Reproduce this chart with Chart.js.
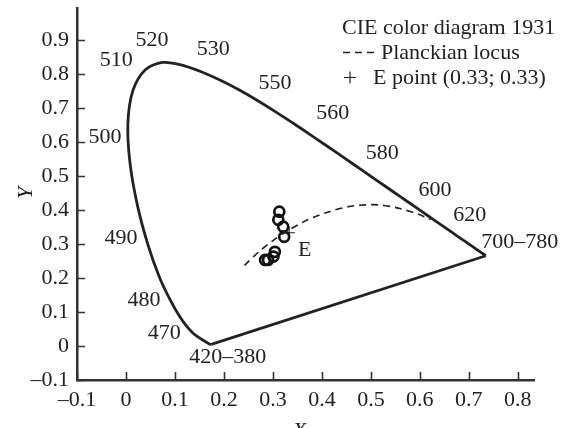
<!DOCTYPE html>
<html>
<head>
<meta charset="utf-8">
<script src="https://cdn.jsdelivr.net/npm/chart.js@4/dist/chart.umd.min.js"></script>
<style>
  html, body { margin: 0; padding: 0; background: #fff; }
</style>
</head>
<body>
<canvas id="chart" width="567" height="428"></canvas>
<script>
// spectral locus, CIE 1931 (wavelength nm -> x, y)
const locusNm = [380, 420, 430, 440, 450, 460, 465, 470, 475, 480, 485, 490, 495, 500, 505, 510, 515, 520, 525, 530,
                 535, 540, 545, 550, 555, 560, 565, 570, 575, 580, 585, 590, 595, 600, 610, 620, 630, 640, 650, 660, 680, 700, 780];
const locusX = [0.1741, 0.1714, 0.1689, 0.1644, 0.1566, 0.1440, 0.1355, 0.1241, 0.1096, 0.0913, 0.0687, 0.0454, 0.0235, 0.0082, 0.0039, 0.0139, 0.0389, 0.0743, 0.1142, 0.1547,
                0.1929, 0.2296, 0.2658, 0.3016, 0.3373, 0.3731, 0.4087, 0.4441, 0.4788, 0.5125, 0.5448, 0.5752, 0.6029, 0.6270, 0.6658, 0.6915, 0.7079, 0.7190, 0.7260, 0.7300, 0.7334, 0.7347, 0.7347];
const locusY = [0.0050, 0.0051, 0.0069, 0.0109, 0.0177, 0.0297, 0.0399, 0.0578, 0.0868, 0.1327, 0.2007, 0.2950, 0.4127, 0.5384, 0.6548, 0.7502, 0.8120, 0.8338, 0.8262, 0.8059,
                0.7816, 0.7543, 0.7243, 0.6923, 0.6589, 0.6245, 0.5896, 0.5547, 0.5202, 0.4866, 0.4544, 0.4242, 0.3965, 0.3725, 0.3340, 0.3083, 0.2920, 0.2809, 0.2740, 0.2700, 0.2666, 0.2653, 0.2653];

// Planckian locus (high T -> low T)
const planckX = [0.2420, 0.2565, 0.2637, 0.2807, 0.2952, 0.3135, 0.3451, 0.3805, 0.4369, 0.4770, 0.5267, 0.5857, 0.6220];
const planckY = [0.2370, 0.2577, 0.2674, 0.2884, 0.3048, 0.3237, 0.3516, 0.3768, 0.4041, 0.4137, 0.4133, 0.3931, 0.3720];

// measured points (circles)
const sampleX = [0.313, 0.311, 0.321, 0.323, 0.304, 0.301, 0.290, 0.284];
const sampleY = [0.395, 0.371, 0.351, 0.321, 0.277, 0.263, 0.253, 0.253];

// equal energy point
const ePointX = [0.333];
const ePointY = [0.333];

const xTicks = [-0.1, 0, 0.1, 0.2, 0.3, 0.4, 0.5, 0.6, 0.7, 0.8];
const yTicks = [-0.1, 0, 0.1, 0.2, 0.3, 0.4, 0.5, 0.6, 0.7, 0.8, 0.9];

// wavelength annotations, anchored in data units
const waveLabels = ['520', '530', '510', '550', '560', '500', '580', '600', '620', '700–780', '490', '480', '470', '420–380', 'E'];
const waveLabelX = [0.053, 0.178, -0.020, 0.304, 0.422, -0.043, 0.523, 0.631, 0.702, 0.804, -0.010, 0.037, 0.078, 0.208, 0.365];
const waveLabelY = [0.900, 0.874, 0.841, 0.774, 0.685, 0.615, 0.568, 0.459, 0.385, 0.306, 0.318, 0.135, 0.038, -0.034, 0.282];

const FONT = '"Liberation Serif", "Times New Roman", serif';
const INK = '#222';

function pts(xs, ys) {
    return xs.map((x, i) => ({x: x, y: ys[i]}));
}

function tickText(v) {
    if (Math.abs(v) < 1e-9) return '0';
    return (v < 0 ? '–' : '') + Math.abs(v).toFixed(1);
}

const decorations = {
    id: 'decorations',
    afterDraw(chart) {
        const ctx = chart.ctx;
        const xs = chart.scales.x;
        const ys = chart.scales.y;
        const area = chart.chartArea;
        ctx.save();

        // inward ticks
        ctx.strokeStyle = '#333';
        ctx.lineWidth = 1.6;
        ctx.beginPath();
        xTicks.forEach(v => {
            const px = Math.round(xs.getPixelForValue(v)) + 0.5;
            ctx.moveTo(px, area.bottom);
            ctx.lineTo(px, area.bottom - 8);
        });
        yTicks.forEach(v => {
            const py = Math.round(ys.getPixelForValue(v)) + 0.5;
            ctx.moveTo(area.left, py);
            ctx.lineTo(area.left + 8, py);
        });
        ctx.stroke();

        // wavelength labels
        ctx.fillStyle = INK;
        ctx.font = '22px ' + FONT;
        ctx.textAlign = 'center';
        ctx.textBaseline = 'middle';
        waveLabels.forEach((t, i) => {
            ctx.fillText(t, xs.getPixelForValue(waveLabelX[i]), ys.getPixelForValue(waveLabelY[i]));
        });

        // legend
        ctx.textAlign = 'left';
        ctx.textBaseline = 'alphabetic';
        ctx.fillText('CIE color diagram 1931', 342, 34);
        ctx.fillText('Planckian locus', 381, 59);
        ctx.fillText('E point (0.33; 0.33)', 373, 84);
        ctx.strokeStyle = INK;
        ctx.lineWidth = 1.5;
        ctx.setLineDash([7, 5]);
        ctx.beginPath();
        ctx.moveTo(343, 52.5);
        ctx.lineTo(378, 52.5);
        ctx.stroke();
        ctx.setLineDash([]);
        ctx.lineWidth = 1.2;
        ctx.beginPath();
        ctx.moveTo(344, 77.5);
        ctx.lineTo(356, 77.5);
        ctx.moveTo(350, 71.5);
        ctx.lineTo(350, 83.5);
        ctx.stroke();

        // axis titles
        ctx.font = 'italic 22px ' + FONT;
        ctx.textAlign = 'center';
        ctx.fillText('X', (area.left + area.right) / 2 - 6, 437);
        ctx.translate(26, 193);
        ctx.rotate(-Math.PI / 2);
        ctx.textBaseline = 'middle';
        ctx.fillText('Y', 0, 0);
        ctx.restore();
    }
};

new Chart('chart', {
    type: 'scatter',
    data: {
        datasets: [{
            label: 'Spectral locus',
            data: pts(locusX, locusY),
            showLine: true,
            borderColor: INK,
            borderWidth: 2.8,
            pointRadius: 0,
            tension: 0.3
        }, {
            label: 'Line of purples',
            data: [{x: locusX[locusX.length - 1], y: locusY[locusY.length - 1]}, {x: locusX[0], y: locusY[0]}],
            showLine: true,
            borderColor: INK,
            borderWidth: 2.8,
            pointRadius: 0,
            tension: 0
        }, {
            label: 'Planckian locus',
            data: pts(planckX, planckY),
            showLine: true,
            borderColor: INK,
            borderWidth: 1.6,
            borderDash: [7, 5],
            pointRadius: 0,
            tension: 0.4
        }, {
            label: 'Samples',
            data: pts(sampleX, sampleY),
            showLine: false,
            pointStyle: 'circle',
            pointRadius: 5,
            borderColor: '#111',
            borderWidth: 2.7,
            backgroundColor: 'rgba(0,0,0,0)'
        }, {
            label: 'E point (0.33; 0.33)',
            data: pts(ePointX, ePointY),
            showLine: false,
            pointStyle: 'cross',
            pointRadius: 6,
            borderColor: INK,
            borderWidth: 1.2
        }]
    },
    options: {
        responsive: false,
        animation: false,
        layout: {padding: {top: 8, right: 33, left: 0, bottom: 0}},
        plugins: {
            legend: {display: false},
            tooltip: {enabled: false}
        },
        scales: {
            x: {
                type: 'linear',
                min: -0.1,
                max: 0.833,
                afterBuildTicks: s => { s.ticks = xTicks.map(v => ({value: v})); },
                afterFit: s => { s.height = 48; },
                grid: {display: false, drawTicks: false},
                border: {display: true, color: '#333', width: 2.5},
                ticks: {
                    padding: 7,
                    color: INK,
                    font: {family: FONT, size: 22},
                    maxRotation: 0,
                    autoSkip: false,
                    callback: v => tickText(v)
                }
            },
            y: {
                type: 'linear',
                min: -0.1,
                max: 0.994,
                afterBuildTicks: s => { s.ticks = yTicks.map(v => ({value: v})); },
                afterFit: s => { s.width = 77; s.paddingTop = 0; s.paddingBottom = 0; },
                grid: {display: false, drawTicks: false},
                border: {display: true, color: '#333', width: 2.5},
                ticks: {
                    padding: 8,
                    color: INK,
                    font: {family: FONT, size: 22},
                    autoSkip: false,
                    callback: v => tickText(v)
                }
            }
        }
    },
    plugins: [decorations]
});
</script>
</body>
</html>
